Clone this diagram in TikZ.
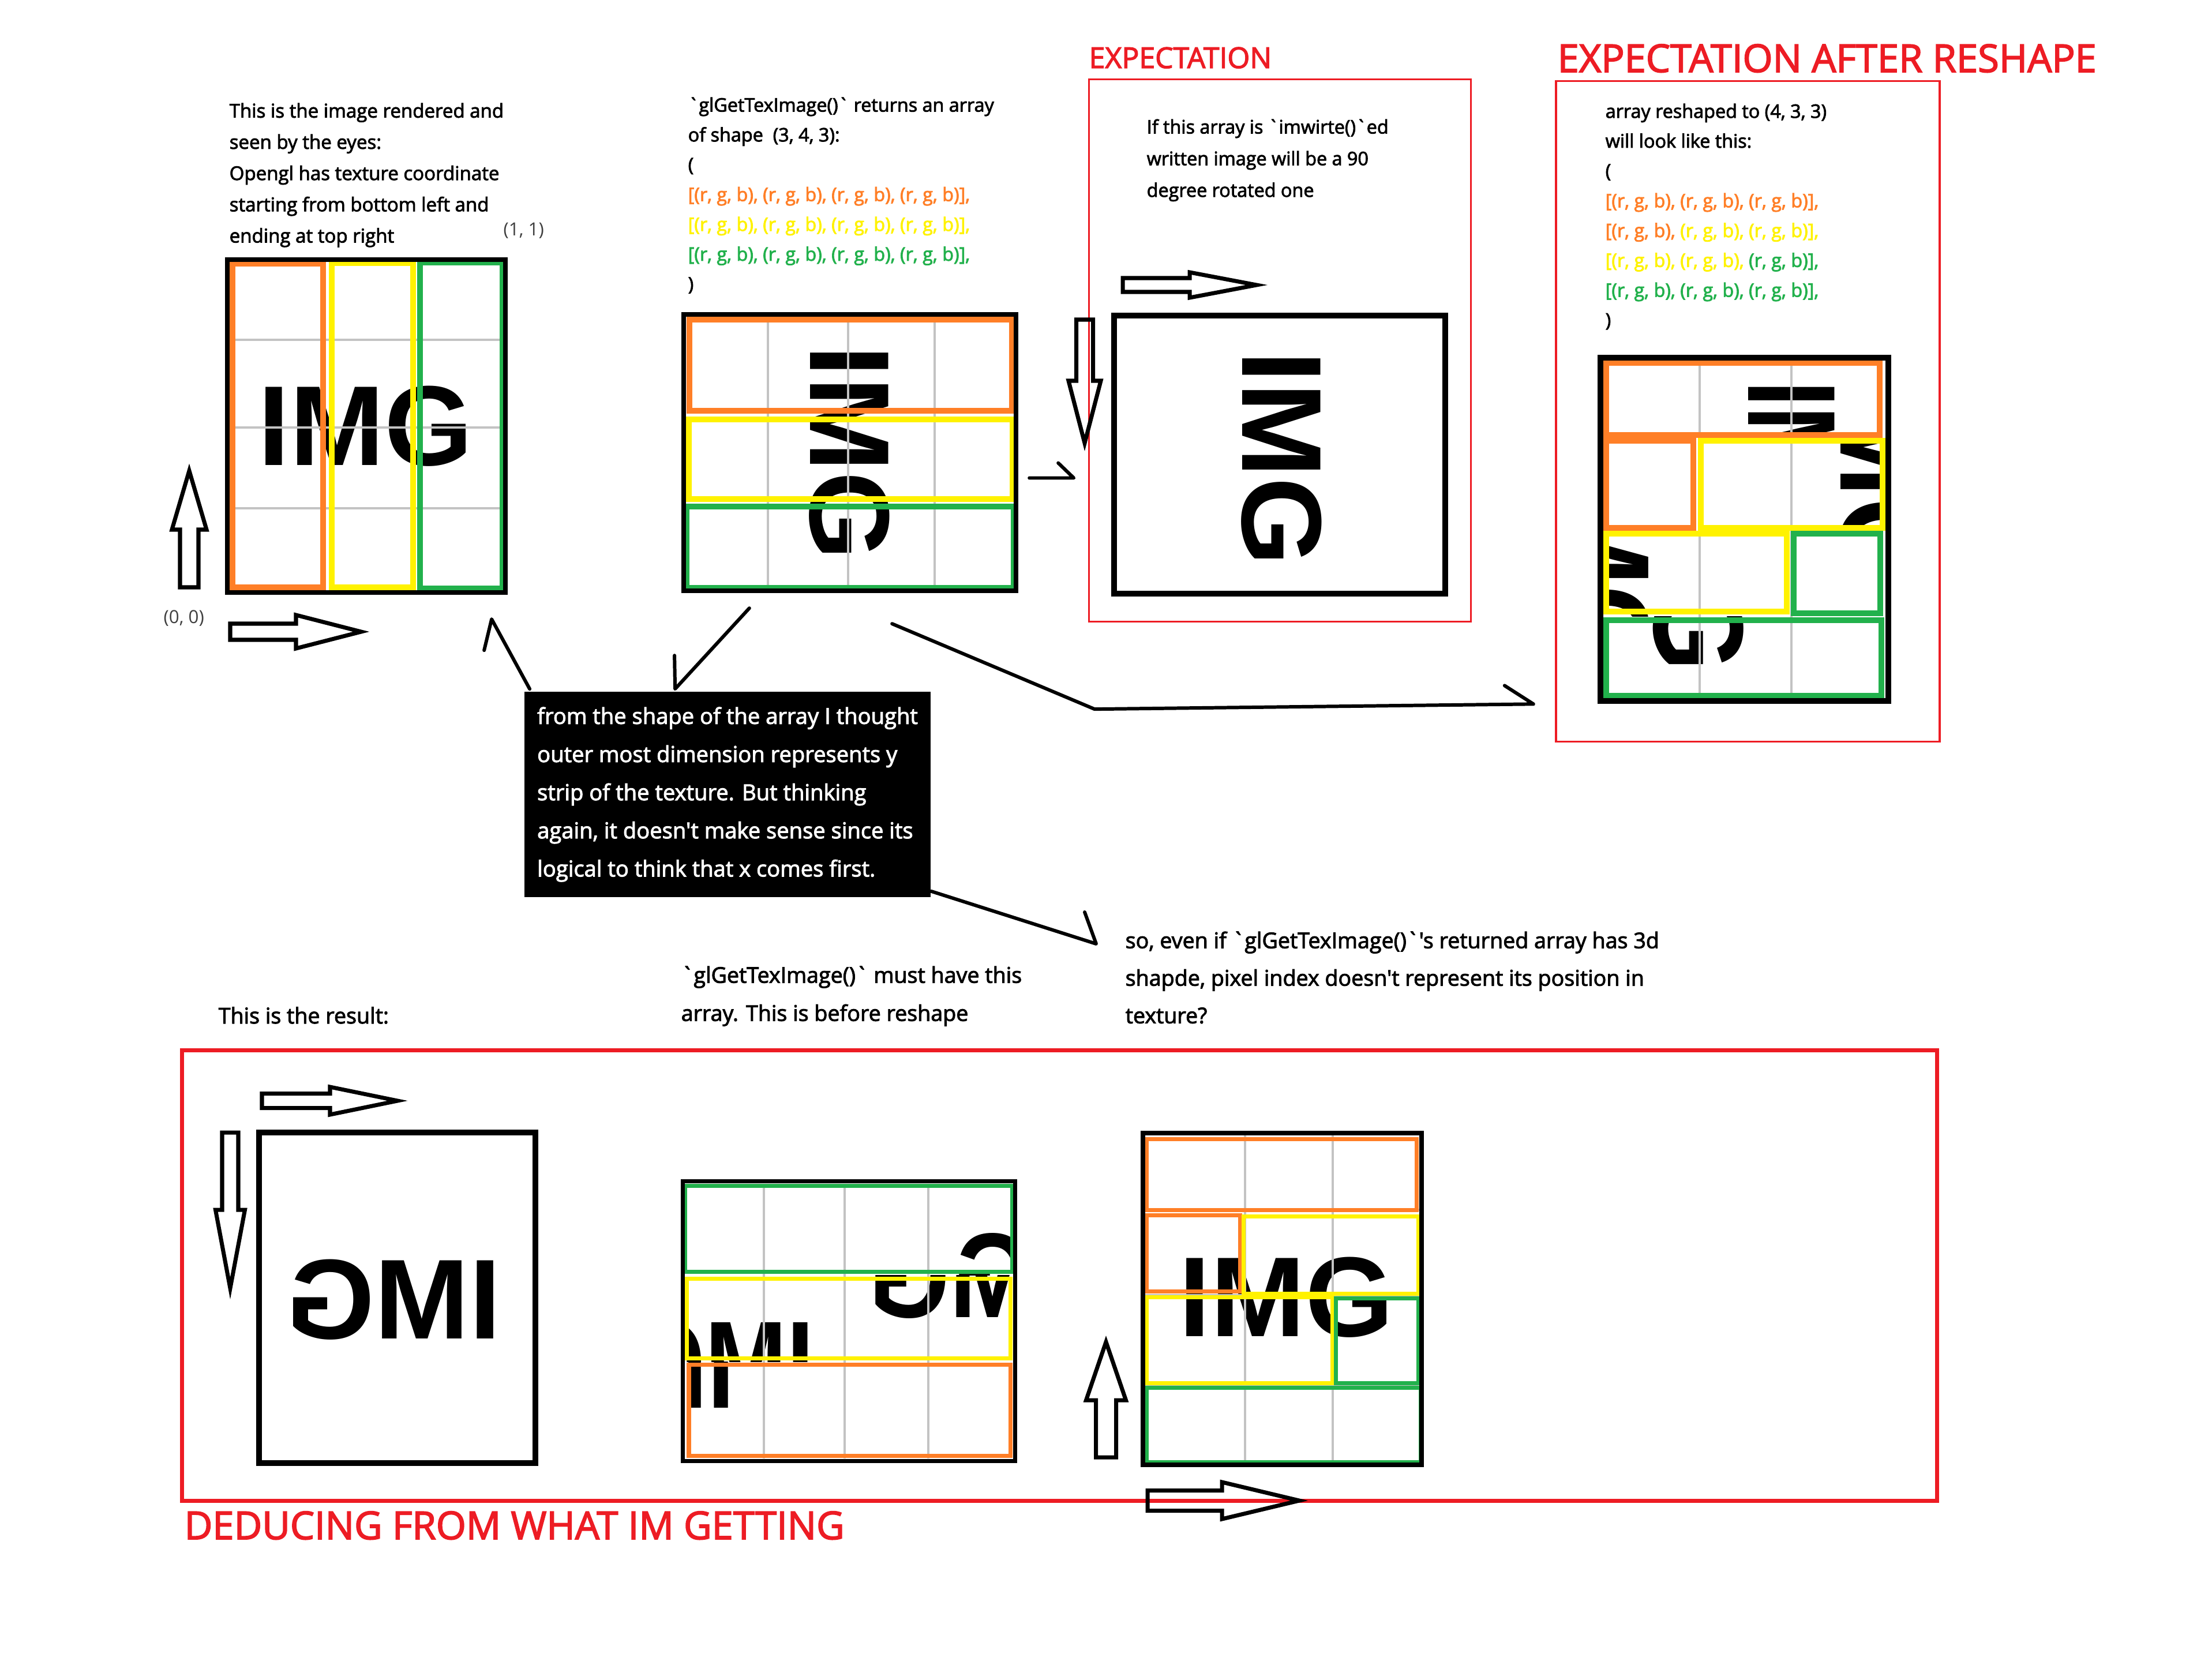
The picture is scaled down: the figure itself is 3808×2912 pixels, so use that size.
\documentclass[tikz,border=0pt]{standalone}
\usepackage{fontspec}
\setmainfont{Open Sans}[Ligatures=TeXOff]
\newfontfamily\boldsans{Open Sans}[Ligatures=TeXOff, FakeBold=2.6]
\newfontfamily\imgfamily{Liberation Sans}
\usetikzlibrary{calc}
\definecolor{paintorange}{HTML}{FF7F27}
\definecolor{paintyellow}{HTML}{FFF200}
\definecolor{paintgreen}{HTML}{22B14C}
\definecolor{paintred}{HTML}{ED1C24}
\definecolor{gridgray}{HTML}{C3C3C3}
\definecolor{coordgray}{HTML}{404040}
\newcommand\lblfont{\boldsans\fontsize{9.2}{14.7}\selectfont}
\newcommand\lowfont{\boldsans\fontsize{10.7}{18.5}\selectfont}
\newcommand\notefont{\boldsans\fontsize{10.85}{18.8}\selectfont}
\newcommand\imgfont{\imgfamily\bfseries\fontsize{56}{56}\selectfont}
\tikzset{boxnode/.style={draw, line width=2.3pt, inner sep=0pt, outer sep=0pt}, cellline/.style={line width=2.8pt}, gridline/.style={line width=1.3pt, draw=gridgray}, connector/.style={line width=1.7pt, line cap=round, line join=round}, blockline/.style={line width=2pt}, redframe/.style={draw=paintred, inner sep=0pt, outer sep=0pt}, lbl/.style={anchor=north west, inner sep=0pt, align=left, font=\lblfont}, coordlbl/.style={anchor=base west, inner sep=0pt, text=coordgray, font=\fontsize{8.9}{10}\selectfont}, titlelbl/.style={anchor=base west, inner sep=0pt, text=paintred, font=\boldsans\fontsize{19}{19}\selectfont}, imgtext/.style={inner sep=0pt, font=\imgfont}, pics/blockarrow/.style n args={4}{code={\draw[blockline] (0,-#3) -- (#1-#2,-#3) -- (#1-#2,-#4) -- (#1,0) -- (#1-#2,#4) -- (#1-#2,#3) -- (0,#3) -- cycle;}}}

\begin{document}
\begin{tikzpicture}[x=0.01cm, y=-0.01cm]
\fill[white] (0,0) rectangle (3808,2912);
\useasboundingbox (0,0) rectangle (3808,2912);
% first picture: the texture as seen
\node[lbl, font=\boldsans\fontsize{9.4}{15.4}\selectfont] (eyetext) at (397,178) {This is the image rendered and\\seen by the eyes:\\Opengl has texture coordinate\\starting from bottom left and\\ending at top right};
\node[coordlbl] (onecorner) at (872,408) {(1, 1)};
\node[coordlbl] (zerocorner) at (283,1080) {(0, 0)};
\node[imgtext] (img1) at (633.5,739) {IMG};
\foreach \y in {589,741,881} \draw[gridline] (398,\y) -- (872,\y);
\draw[cellline, draw=paintorange] (403,457) rectangle (560,1018);
\draw[cellline, draw=paintyellow] (575,456) rectangle (716,1018);
\draw[cellline, draw=paintgreen] (728,455) rectangle (871,1020);
\node[boxnode, minimum width=4.82cm, minimum height=5.77cm] (eyebox) at (635,738.5) {};
\pic[rotate=90] (eyeup) at (328,1018) {blockarrow={202}{102}{16}{30}};
\pic (eyeright) at (399,1095) {blockarrow={227}{113}{14}{29}};
% second picture: what glGetTexImage returns
\node[lbl] (texinfo) at (1192,168) {`glGetTexImage()` returns an array\\of shape\ \ (3, 4, 3):\\(\\\textcolor{paintorange}{[(r, g, b), (r, g, b), (r, g, b), (r, g, b)],}\\\textcolor{paintyellow}{[(r, g, b), (r, g, b), (r, g, b), (r, g, b)],}\\\textcolor{paintgreen}{[(r, g, b), (r, g, b), (r, g, b), (r, g, b)],}\\)};
\node[imgtext, rotate=-90] (img2) at (1472.5,784.5) {IMG};
\foreach \x in {1331,1470,1620} \draw[gridline] (\x,550) -- (\x,1020);
\draw[cellline, draw=paintorange] (1195,554) rectangle (1754,712);
\draw[cellline, draw=paintyellow] (1194,727) rectangle (1755,865);
\draw[cellline, draw=paintgreen] (1190,878) rectangle (1757,1019);
\node[boxnode, minimum width=5.76cm, minimum height=4.79cm] (texbox) at (1473,784.5) {};
% third picture: expectation
\node[titlelbl, font=\boldsans\fontsize{14.2}{14.2}\selectfont] (expecttitle) at (1887,118) {EXPECTATION};
\node[redframe, line width=0.9pt, minimum width=6.61cm, minimum height=9.39cm] (expectframe) at (2218.5,607.5) {};
\node[lbl, font=\boldsans\fontsize{9.2}{15.6}\selectfont] (rottext) at (1987,206) {If this array is `imwirte()`ed\\written image will be a 90\\degree rotated one};
\node[imgtext, rotate=-90] (img3) at (2221.5,794.5) {IMG};
\node[boxnode, line width=2.85pt, minimum width=5.74cm, minimum height=4.82cm] (rotbox) at (2218,788) {};
\pic (rotright) at (1946,494) {blockarrow={232}{116}{12}{22}};
\pic[rotate=-90] (rotdown) at (1880,554) {blockarrow={214}{108}{14.5}{28}};
% fourth picture: expectation after reshape
\node[titlelbl] (reshapetitle) at (2699,125) {EXPECTATION AFTER RESHAPE};
\node[redframe, line width=1pt, minimum width=6.65cm, minimum height=11.44cm] (reshapeframe) at (3029.5,713) {};
\node[lbl] (reshtext) at (2782,179) {array reshaped to (4, 3, 3)\\will look like this:\\(\\\textcolor{paintorange}{[(r, g, b), (r, g, b), (r, g, b)],}\\\textcolor{paintorange}{[(r, g, b),} \textcolor{paintyellow}{(r, g, b), (r, g, b)],}\\\textcolor{paintyellow}{[(r, g, b), (r, g, b),} \textcolor{paintgreen}{(r, g, b)],}\\\textcolor{paintgreen}{[(r, g, b), (r, g, b), (r, g, b)],}\\)};
\def\srcx{{1190,1331,1470,1620,1757}}
\def\srcy{{554,720,872,1019}}
\def\dstx{{2779,2946,3105,3266}}
\def\dsty{{624,759,920,1068,1211}}
\foreach \k in {0,...,11} {
  \pgfmathtruncatemacro{\srow}{floor(\k/4)}
  \pgfmathtruncatemacro{\scol}{mod(\k,4)}
  \pgfmathtruncatemacro{\trow}{floor(\k/3)}
  \pgfmathtruncatemacro{\tcol}{mod(\k,3)}
  \pgfmathsetmacro{\sa}{\srcx[\scol]}
  \pgfmathsetmacro{\sc}{\srcx[\scol+1]}
  \pgfmathsetmacro{\sb}{\srcy[\srow]}
  \pgfmathsetmacro{\sd}{\srcy[\srow+1]}
  \pgfmathsetmacro{\ta}{\dstx[\tcol]}
  \pgfmathsetmacro{\tc}{\dstx[\tcol+1]}
  \pgfmathsetmacro{\tb}{\dsty[\trow]}
  \pgfmathsetmacro{\td}{\dsty[\trow+1]}
  \pgfmathsetmacro{\sx}{(\tc-\ta)/(\sc-\sa)}
  \pgfmathsetmacro{\sy}{(\td-\tb)/(\sd-\sb)}
  \begin{scope}[shift={(\ta,\tb)}, xscale=\sx, yscale=\sy, shift={(-\sa,-\sb)}, transform shape]
    \clip (\sa,\sb) rectangle (\sc,\sd);
    \node[imgtext, rotate=-90] (pieceA\k) at (1472.5,784.5) {IMG};
  \end{scope}
}
\foreach \x in {2946,3105} \draw[gridline] (\x,624) -- (\x,1211);
\draw[cellline, draw=paintorange] (2784,629) rectangle (3258,754);
\draw[cellline, draw=paintorange] (2784,764) rectangle (2935,915);
\draw[cellline, draw=paintyellow] (2948,764) rectangle (3263,915);
\draw[cellline, draw=paintyellow] (2784,925) rectangle (3097,1060);
\draw[cellline, draw=paintgreen] (3109,925) rectangle (3259,1063);
\draw[cellline, draw=paintgreen] (2784,1075) rectangle (3261,1206);
\node[boxnode, line width=2.85pt, minimum width=4.99cm, minimum height=5.95cm] (reshbox) at (3023.5,917.5) {};
% the note in the middle
\node[fill=black, text=white, font=\notefont, align=left, inner xsep=0.18cm, minimum width=7.04cm, minimum height=3.56cm] (note) at (1261,1377) {from the shape of the array I thought\\outer most dimension represents y\\strip of the texture. But thinking\\again, it doesn't make sense since its\\logical to think that x comes first.};
% lower texts
\node[lbl, anchor=base west, font=\lowfont] (resulttext) at (378,1774) {This is the result:};
\node[lbl, font=\boldsans\fontsize{10.7}{18.8}\selectfont] (beforetext) at (1180,1674) {`glGetTexImage()` must have this\\array. This is before reshape};
\node[lbl, font=\lowfont] (question) at (1950,1614) {so, even if `glGetTexImage()`'s returned array has 3d\\shapde, pixel index doesn't represent its position in\\texture?};
% connectors
\coordinate (eyetip) at ($(eyebox.south east)+(-24,46)$);
\draw[connector] ($(note.north west)+(10,-4)$) -- (eyetip) -- ++(-13,54);
\draw[connector] ($(texbox.south west)+(114,30)$) -- ($(note.north west)+(262,-4)$) -- ++(-1,-58);
\draw[connector] ($(texbox.south east)+(-215,57)$) -- ++(351,148) -- ($(reshapeframe.south west)+(-39,-65)$) -- ++(-50,-32);
\draw[connector] ($(note.south east)+(0,-11)$) -- ($(question.north west)+(-50,22)$) -- ++(-20,-55);
\draw[connector] ($(texbox.east)+(23,44)$) -- ++(77,0) -- ++(-27,-26);
% bottom frame: what I am getting
\node[redframe, line width=2pt, minimum width=30.41cm, minimum height=7.8cm] (resultframe) at (1836.5,2211) {};
\node[titlelbl] (deducetitle) at (319,2668) {DEDUCING FROM WHAT IM GETTING};
\node[imgtext, xscale=-1] (img5) at (682.5,2252.5) {IMG};
\node[boxnode, line width=2.85pt, minimum width=4.79cm, minimum height=5.73cm] (resultbox) at (688.5,2249.5) {};
\pic (resright) at (454,1908) {blockarrow={235}{117}{12.5}{24}};
\pic[rotate=-90] (resdown) at (399,1963) {blockarrow={270}{136}{14}{25.5}};
\def\srcx{{449,609,768,928}}
\def\srcy{{1963,2106,2250,2393,2536}}
\def\dstx{{1187,1324,1464,1609,1754}}
\def\dsty{{2055,2210,2360,2523}}
\foreach \k in {0,...,11} {
  \pgfmathtruncatemacro{\srow}{floor(\k/3)}
  \pgfmathtruncatemacro{\scol}{mod(\k,3)}
  \pgfmathtruncatemacro{\trow}{floor(\k/4)}
  \pgfmathtruncatemacro{\tcol}{mod(\k,4)}
  \pgfmathsetmacro{\sa}{\srcx[\scol]}
  \pgfmathsetmacro{\sc}{\srcx[\scol+1]}
  \pgfmathsetmacro{\sb}{\srcy[\srow]}
  \pgfmathsetmacro{\sd}{\srcy[\srow+1]}
  \pgfmathsetmacro{\ta}{\dstx[\tcol]}
  \pgfmathsetmacro{\tc}{\dstx[\tcol+1]}
  \pgfmathsetmacro{\tb}{\dsty[\trow]}
  \pgfmathsetmacro{\td}{\dsty[\trow+1]}
  \pgfmathsetmacro{\sx}{(\tc-\ta)/(\sc-\sa)}
  \pgfmathsetmacro{\sy}{(\td-\tb)/(\sd-\sb)}
  \begin{scope}[shift={(\ta,\tb)}, xscale=\sx, yscale=\sy, shift={(-\sa,-\sb)}, transform shape]
    \clip (\sa,\sb) rectangle (\sc,\sd);
    \node[imgtext, xscale=-1] (pieceB\k) at (682.5,2252.5) {IMG};
  \end{scope}
}
\foreach \x in {1324,1464,1609} \draw[gridline] (\x,2052) -- (\x,2528);
\draw[cellline, line width=2pt, draw=paintgreen] (1187,2055) rectangle (1754,2204);
\draw[cellline, line width=2pt, draw=paintyellow] (1190,2216) rectangle (1751,2354);
\draw[cellline, line width=2pt, draw=paintorange] (1194,2365) rectangle (1751,2523);
\node[boxnode, line width=2pt, minimum width=5.75cm, minimum height=4.84cm] (beforebox) at (1471.5,2290) {};
\node[imgtext] (img7) at (2229.5,2249) {IMG};
\foreach \x in {2158,2310} \draw[gridline] (\x,1968) -- (\x,2535);
\foreach \y in {2097,2245,2400} \draw[gridline] (1985,\y) -- (2460,\y);
\draw[cellline, line width=2pt, draw=paintorange] (1987,1974) rectangle (2455,2097);
\draw[cellline, line width=2pt, draw=paintorange] (1987,2106) rectangle (2149,2238);
\draw[cellline, line width=2pt, draw=paintyellow] (2155,2108) rectangle (2458,2242);
\draw[cellline, line width=2pt, draw=paintyellow] (1987,2248) rectangle (2309,2397);
\draw[cellline, line width=2pt, draw=paintgreen] (2315,2250) rectangle (2458,2397);
\draw[cellline, line width=2pt, draw=paintgreen] (1987,2405) rectangle (2462,2534);
\node[boxnode, minimum width=4.83cm, minimum height=5.75cm] (afterbox) at (2222.5,2251.5) {};
\pic[rotate=90] (afterup) at (1917,2526) {blockarrow={200}{101}{17.5}{34.5}};
\pic (afterright) at (1989,2601) {blockarrow={263}{134}{17.5}{32}};
\end{tikzpicture}
\end{document}
